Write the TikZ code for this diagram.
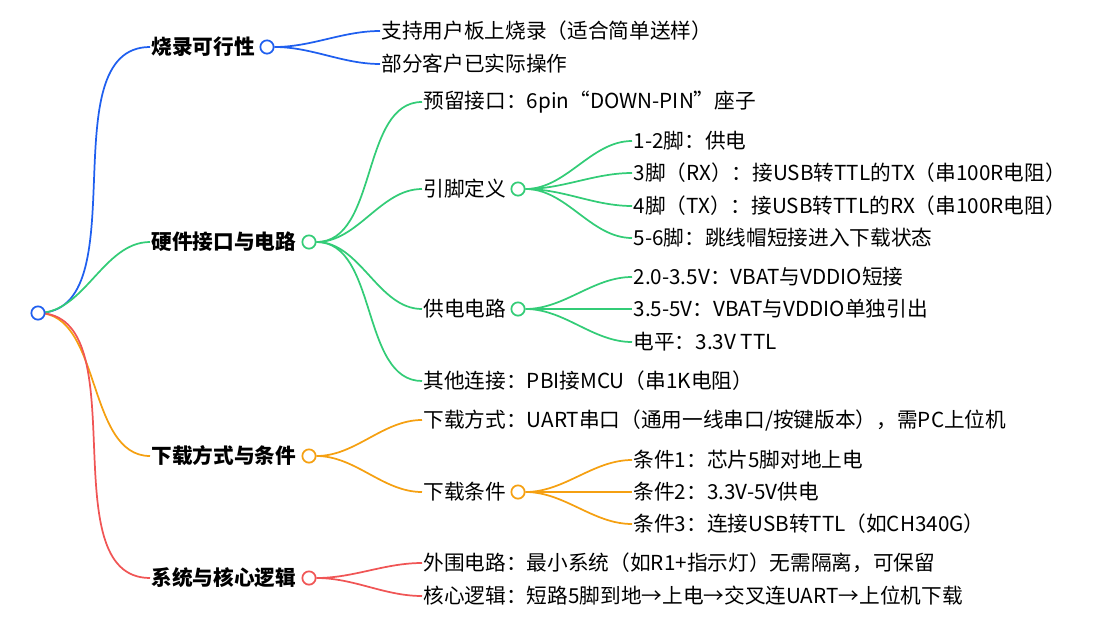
\documentclass[tikz,border=0pt]{standalone}
\usepackage{fontspec}
\setmainfont{Noto Sans CJK SC}
\begin{document}
\begin{tikzpicture}[x=0.75pt,y=-0.75pt,
  dotc/.style={circle,draw=#1,fill=white,line width=1.3pt,inner sep=0pt,minimum size=10pt},
  lbl/.style={anchor=west,inner sep=1pt,font=\fontsize{15.5}{17}\selectfont},
  br/.style={anchor=west,inner sep=1pt,font=\fontsize{15.5}{17}\selectfont\bfseries},
  ln/.style={draw=#1,line width=1.3pt,out=0,in=180,looseness=0.9}]
\definecolor{cb}{HTML}{1F5FEF}
\definecolor{cg}{HTML}{33CC77}
\definecolor{co}{HTML}{F5A011}
\definecolor{cr}{HTML}{F05555}
\useasboundingbox (0,0) rectangle (1110,639);
% branches
\node[br] (b1) at (150,47) {烧录可行性};
\node[br] (b2) at (150,242) {硬件接口与电路};
\node[br] (b3) at (150,456) {下载方式与条件};
\node[br] (b4) at (150,578) {系统与核心逻辑};
\node[dotc=cb] (c1) at (267,47) {};
\node[dotc=cg] (c2) at (309,242) {};
\node[dotc=co] (c3) at (309,456) {};
\node[dotc=cr] (c4) at (309,578) {};
\draw[ln=cb] (38,313) coordinate (r0) to (b1.west);
\draw[ln=cg] (r0) to (b2.west);
\draw[ln=co] (r0) to (b3.west);
\draw[ln=cr] (r0) to (b4.west);
\node[dotc=cb] (root) at (38,313) {};
% level 2
\node[lbl] (l11) at (380,31) {支持用户板上烧录（适合简单送样）};
\node[lbl] (l12) at (380,64) {部分客户已实际操作};
\node[lbl] (l21) at (422,102) {预留接口：6pin“DOWN-PIN”座子};
\node[lbl] (l22) at (422,189) {引脚定义};
\node[lbl] (l23) at (422,309) {供电电路};
\node[lbl] (l24) at (422,381) {其他连接：PBI接MCU（串1K电阻）};
\node[lbl] (l31) at (422,420) {下载方式：UART串口（通用一线串口/按键版本），需PC上位机};
\node[lbl] (l32) at (422,492) {下载条件};
\node[lbl] (l41) at (422,563) {外围电路：最小系统（如R1+指示灯）无需隔离，可保留};
\node[lbl] (l42) at (422,596) {核心逻辑：短路5脚到地→上电→交叉连UART→上位机下载};
\node[dotc=cg] (c22) at (518,189) {};
\node[dotc=cg] (c23) at (518,309) {};
\node[dotc=co] (c32) at (518,492) {};
\foreach \t in {l11,l12} \draw[ln=cb] (c1.east) to (\t.west);
\foreach \t in {l21,l22,l23,l24} \draw[ln=cg] (c2.east) to (\t.west);
\foreach \t in {l31,l32} \draw[ln=co] (c3.east) to (\t.west);
\foreach \t in {l41,l42} \draw[ln=cr] (c4.east) to (\t.west);
% level 3
\node[lbl] (m1) at (632,141) {1-2脚：供电};
\node[lbl] (m2) at (632,173) {3脚（RX）：接USB转TTL的TX（串100R电阻）};
\node[lbl] (m3) at (632,206) {4脚（TX）：接USB转TTL的RX（串100R电阻）};
\node[lbl] (m4) at (632,238) {5-6脚：跳线帽短接进入下载状态};
\node[lbl] (p1) at (632,277) {2.0-3.5V：VBAT与VDDIO短接};
\node[lbl] (p2) at (632,309) {3.5-5V：VBAT与VDDIO单独引出};
\node[lbl] (p3) at (632,342) {电平：3.3V TTL};
\node[lbl] (q1) at (632,460) {条件1：芯片5脚对地上电};
\node[lbl] (q2) at (632,492) {条件2：3.3V-5V供电};
\node[lbl] (q3) at (632,524) {条件3：连接USB转TTL（如CH340G）};
\foreach \t in {m1,m2,m3,m4} \draw[ln=cg] (c22.east) to (\t.west);
\foreach \t in {p1,p2,p3} \draw[ln=cg] (c23.east) to (\t.west);
\foreach \t in {q1,q2,q3} \draw[ln=co] (c32.east) to (\t.west);
\end{tikzpicture}
\end{document}
